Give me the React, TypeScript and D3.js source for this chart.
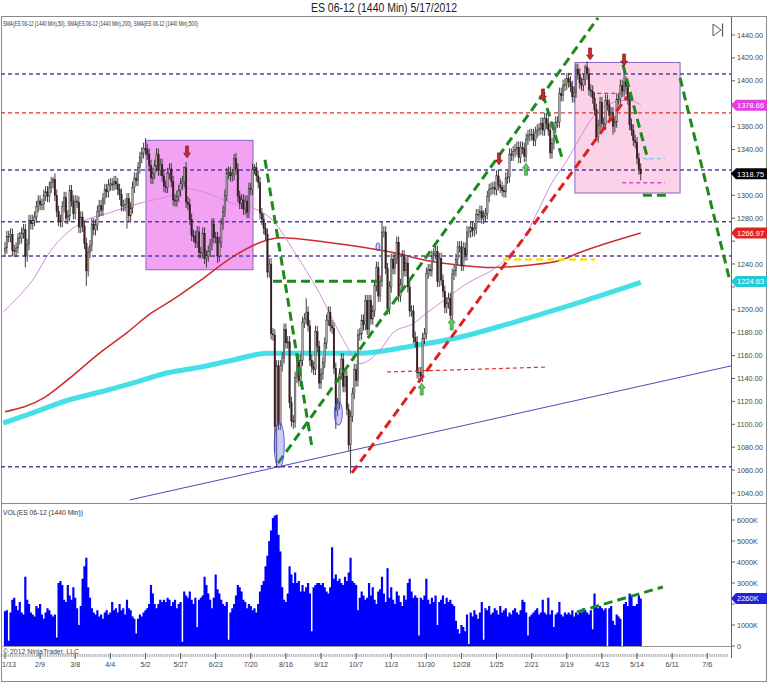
import React from 'react';
import * as d3 from 'd3';

// ---------- DATA ----------
const closes = [
  1254, 1264, 1264, 1266, 1252, 1251, 1254, 1262, 1263, 1267, 1270, 1247, 1257,
  1278, 1275, 1278, 1281, 1290, 1295, 1292, 1292, 1300, 1303, 1299, 1307, 1311, 1314, 1300, 1286, 1278, 1277, 1290, 1298,
  1280, 1282, 1304, 1295, 1284, 1295, 1294, 1272, 1281, 1273, 1258, 1234, 1250, 1256, 1275, 1270, 1274, 1286, 1291, 1287, 1297, 1305, 1303,
  1309, 1310, 1309, 1312, 1310, 1305, 1301, 1291, 1291, 1292, 1297, 1282, 1289, 1307, 1315, 1313, 1324, 1333, 1337, 1341,
  1340, 1336, 1326, 1315, 1319, 1326, 1336, 1322, 1327, 1317, 1308, 1307, 1319, 1323, 1312, 1296, 1295, 1299, 1304, 1310, 1312, 1324,
  1294, 1292, 1279, 1265, 1264, 1259, 1268, 1250, 1250, 1267, 1245, 1247, 1251, 1257, 1275, 1263, 1263, 1247, 1259, 1275, 1286, 1300,
  1319, 1320, 1317, 1318, 1332, 1323, 1299, 1293, 1296, 1288, 1295, 1285, 1306, 1305, 1323, 1324, 1317, 1311, 1284, 1279, 1271,
  1266, 1233, 1240, 1179, 1178, 1098, 1151, 1100, 1151, 1158, 1183, 1171, 1172, 1119, 1103, 1102, 1141, 1156, 1138, 1156, 1189, 1192, 1198,
  1186, 1156, 1150, 1148, 1181, 1168, 1136, 1144, 1154, 1171, 1191, 1198, 1186, 1184, 1149, 1112, 1118, 1144, 1157, 1133, 1142, 1113,
  1082, 1107, 1127, 1148, 1138, 1178, 1179, 1191, 1187, 1208, 1183, 1208, 1192, 1199, 1221, 1237, 1212, 1225, 1268, 1268, 1236,
  1201, 1220, 1244, 1236, 1245, 1259, 1212, 1222, 1247, 1234, 1241, 1220, 1199, 1199, 1176, 1172, 1145, 1145, 1142, 1175, 1179, 1232,
  1235, 1234, 1247, 1249, 1251, 1225, 1245, 1226, 1216, 1202, 1206, 1210, 1195, 1231, 1234, 1244, 1255, 1255, 1239, 1254, 1248,
  1268, 1268, 1272, 1269, 1271, 1283, 1283, 1286, 1280, 1282, 1284, 1299, 1305, 1306, 1307, 1305, 1317, 1309, 1307, 1304, 1303,
  1315, 1316, 1336, 1335, 1338, 1340, 1342, 1333, 1342, 1341, 1334, 1349, 1352, 1353, 1353, 1348, 1355, 1357, 1358, 1363, 1357,
  1367, 1363, 1357, 1337, 1345, 1359, 1364, 1364, 1389, 1387, 1396, 1397, 1402, 1399, 1395, 1386, 1390, 1410, 1406, 1398, 1396, 1401,
  1412, 1406, 1392, 1391, 1385, 1375, 1351, 1361, 1381, 1363, 1362, 1383, 1379, 1370, 1372, 1360, 1364, 1384, 1384, 1396, 1391,
  1399, 1395, 1384, 1362, 1357, 1348, 1346, 1332, 1323, 1318.75,
];

const volumes = [
  1650, 1700, 250, 1600, 2200, 2300, 1900, 1700, 2100, 1600,
  1500, 3300, 2200, 2000, 1600, 1500, 1400, 1900, 1800, 2000,
  1500, 1300, 1600, 1800, 1700, 1500, 1400, 1500, 400, 3000,
  3100, 2900, 2200, 2100, 2900, 2400, 2200, 2800, 2300, 1800,
  1000, 1900, 3200, 3800, 4200, 2800, 2300, 1800, 1600, 1500,
  1700, 1400, 1500, 1300, 1600, 1700, 1500, 1600, 2100, 1700,
  1800, 1600, 2000, 1700, 1800, 1500, 2200, 1800, 1700, 1400,
  1300, 600, 1300, 1500, 1400, 1600, 1700, 1800, 2000, 2900,
  2500, 2000, 1800, 2000, 2200, 2100, 2200, 2100, 2300, 2200,
  1900, 2100, 2200, 1800, 2000, 2100, 200, 2600, 2400, 2300,
  2600, 2200, 2000, 2300, 900, 2200, 2300, 2400, 3300, 2900,
  2500, 2200, 1800, 2300, 3400, 2700, 2500, 2200, 2000, 1900,
  2100, 300, 1600, 1800, 2000, 2400, 2900, 2800, 2600, 2200,
  2100, 1800, 2000, 1900, 1700, 1800, 1600, 2000, 2600, 2900,
  3100, 3800, 4300, 5000, 5500, 6100, 6200, 6250, 5300, 4500,
  2800, 2200, 2100, 2500, 3800, 3400, 3000, 3500, 3000, 3100,
  2600, 2900, 2600, 2800, 3000, 2500, 700, 2800, 2900, 3000,
  3000, 2900, 3000, 2800, 2600, 2500, 2800, 4700, 3200, 3400,
  3100, 3200, 3000, 2900, 3300, 3100, 3500, 4200, 3100, 3000,
  2900, 1700, 2300, 2600, 2400, 2200, 2300, 3000, 2400, 2800,
  2200, 2000, 2600, 2700, 3300, 2500, 2100, 3700, 2300, 2800,
  2200, 2000, 2600, 2400, 2100, 1900, 2400, 2200, 3000, 3200,
  2600, 2300, 2400, 2300, 500, 2300, 2200, 2400, 3200, 2200,
  2000, 2300, 2100, 2400, 1000, 2100, 2200, 2400, 2000, 2300,
  2100, 2200, 2000, 1900, 1200, 800, 600, 1000, 900, 700,
  1500, 100, 1600, 1400, 1700, 1500, 1300, 1600, 2100, 300,
  1800, 1700, 1900, 1500, 1600, 1800, 1700, 1500, 1900, 1600,
  1700, 1800, 1400, 1600, 1500, 1700, 1800, 1600, 1500, 1700,
  2200, 2100, 1600, 500, 1400, 1500, 1600, 1700, 1800, 1500,
  1600, 2200, 1600, 1500, 2300, 1500, 1700, 900, 1500, 1600,
  2100, 1500, 1400, 1600, 1500, 1600, 1500, 1700, 1400, 1600,
  1500, 1700, 1600, 1800, 1700, 1600, 1500, 1700, 800, 2500,
  1900, 1800, 1900, 1800, 1700, 1800, 0, 1800, 1900, 1200,
  1000, 1500, 1400, 1300, 0, 2000, 2100, 1900, 2500, 2400,
  1900, 1900, 2000, 2400, 2260,
];

const lowIdx = [11, 44, 66, 109, 115, 146, 147, 156, 179, 187, 224, 241, 320, 329, 344];
const lowVal = [1237, 1221, 1271, 1237, 1241, 1075, 1063, 1096, 1096, 1057, 1138, 1192, 1348, 1353, 1313];
const highIdx = [26, 76, 97, 124, 135, 163, 175, 204, 309, 314, 335];
const highVal = [1316, 1350, 1325, 1336, 1327, 1210, 1203, 1277, 1415, 1414, 1409];

const sma50 = [[-1, 1198], [7, 1211], [15, 1226], [24, 1250], [41, 1276], [57, 1285], [75, 1294], [88, 1299], [98, 1306], [109, 1302], [123, 1293], [134, 1289], [145, 1278], [156, 1252], [170, 1215], [183, 1174], [192, 1153], [203, 1165], [210, 1180], [221, 1188], [228, 1197], [239, 1210], [250, 1223], [257, 1229], [264, 1235], [270, 1243], [275, 1252], [279, 1258], [288, 1285], [296, 1311], [304, 1330], [311, 1350], [320, 1372], [329, 1381], [337, 1383], [344, 1379]];
const sma200 = [[0, 1111], [21, 1123], [34, 1139], [51, 1162], [66, 1180], [79, 1197], [91, 1209], [106, 1226], [123, 1246], [142, 1261], [149, 1263], [174, 1259], [192, 1255], [210, 1250], [228, 1243], [246, 1239], [264, 1237], [283, 1239], [300, 1243], [311, 1250], [344, 1267]];
const sma500 = [[-1, 1101], [15, 1110], [34, 1121], [51, 1128], [69, 1136], [88, 1145], [106, 1150], [123, 1156], [142, 1162], [160, 1162], [192, 1162], [219, 1168], [246, 1176], [273, 1188], [300, 1201], [344, 1224]];

const xLabels = ['1/13', '2/9', '3/8', '4/4', '5/2', '5/27', '6/23', '7/20', '8/16', '9/12', '10/7', '11/3', '11/30', '12/28', '1/25', '2/21', '3/19', '4/13', '5/14', '6/11', '7/6'];
const priceTicks = [1040, 1060, 1080, 1100, 1120, 1140, 1160, 1180, 1200, 1220, 1240, 1260, 1280, 1300, 1320, 1340, 1360, 1380, 1400, 1420, 1440];
const volTicks = [0, 1000, 2000, 3000, 4000, 5000, 6000];

const purpleLevels = [1406, 1322, 1277, 1247, 1063];
const redLevels = [1372];

// annotation lines [i1, p1, i2, p2]
const greenLines = [
  [147.7, 1066, 320.9, 1455],
  [140.7, 1331, 166.1, 1080],
  [145, 1225, 201.8, 1225],
  [291.1, 1388, 301.4, 1333],
  [334.4, 1414, 347.9, 1331],
  [345.2, 1300, 358.2, 1300],
  [365.3, 1402.5, 392.3, 1225],
];
const redThickLines = [[187.8, 1057.5, 336.6, 1386]];
const redThinLines = [[206.7, 1145.7, 293.3, 1150], [320.5, 1389, 336.6, 1389]];
const yellowLines = [[269.5, 1244, 319.3, 1244]];
const lightBlueLines = [[345.2, 1332, 357, 1332]];
const magentaLines = [[334, 1311, 357, 1311]];
const blueLines = [[67.6, 1034, 392.9, 1151]];
const volGreenLines = [[309.5, 1620, 356, 2810]];

const boxes = [
  { i1: 76.3, i2: 134.2, p1: 1348, p2: 1235, fill: '#f2a2f2' },
  { i1: 308.4, i2: 365.3, p1: 1416, p2: 1302, fill: '#fbd2e8' },
];
const ellipses = [
  { i: 148.4, p: 1082, rx: 5, ry: 23 },
  { i: 180.4, p: 1109.6, rx: 4, ry: 12 },
  { i: 201.8, p: 1255, rx: 2, ry: 4 },
];
const redArrowIdx = [98.5, 267.3, 291.1, 316.6, 335];
const redArrowTip = [1332.6, 1326.5, 1382.4, 1418.2, 1412.9];
const greenArrowIdx = [225.5, 241.7, 281.9];
const greenArrowTip = [1136, 1192.8, 1328];

const tags = [
  { p: 1378.66, text: '1378.66', bg: '#e040e0', fg: '#fff' },
  { p: 1318.75, text: '1318.75', bg: '#000000', fg: '#fff' },
  { p: 1266.97, text: '1266.97', bg: '#e02424', fg: '#fff' },
  { p: 1224.63, text: '1224.63', bg: '#26c8d8', fg: '#fff' },
];

const FONT = "'Liberation Sans Narrow', 'Liberation Sans', Arial, sans-serif";

export default function App() {
  const x = d3.scaleLinear().domain([0, 380]).range([5, 707.24]);
  const y = d3.scaleLinear().domain([1040, 1440]).range([493, 35]);
  const yv = d3.scaleLinear().domain([0, 6000]).range([646, 520]);

  const lowMap = new Map(lowIdx.map((k, j) => [k, lowVal[j]]));
  const highMap = new Map(highIdx.map((k, j) => [k, highVal[j]]));

  const line = d3.line<number[]>().x(d => x(d[0])).y(d => y(d[1])).curve(d3.curveMonotoneX);

  const seg = (l: number[], key: string, stroke: string, w: number, dash: string | undefined) => (
    <line key={key} x1={x(l[0])} y1={y(l[1])} x2={x(l[2])} y2={y(l[3])} stroke={stroke} strokeWidth={w} strokeDasharray={dash} />
  );

  const candles = closes.map((c, i) => {
    const o = i === 0 ? c - 3 : closes[i - 1];
    const hi = highMap.has(i) ? (highMap.get(i) as number) : Math.max(o, c) + 5;
    const lo = lowMap.has(i) ? (lowMap.get(i) as number) : Math.min(o, c) - 5;
    const up = c >= o;
    const cx = x(i);
    const top = y(Math.max(o, c));
    const h = Math.max(0.8, Math.abs(y(o) - y(c)));
    return (
      <g key={i}>
        <line x1={cx} x2={cx} y1={y(hi)} y2={y(lo)} stroke="#2a2a2a" strokeWidth={0.9} />
        <rect x={cx - 0.8} y={top} width={1.6} height={h} fill={up ? '#a4a4a4' : '#461818'} stroke="#1e1e1e" strokeWidth={0.35} />
      </g>
    );
  });

  // one path for all volume bars (avoids seams between adjacent bars)
  const volPath = volumes.map((v, i) => {
    const x0 = x(i) - 1.1, x1 = x(i) + 1.1, top = yv(v);
    return `M${x0},646V${top}H${x1}V646Z`;
  }).join('');

  const minorTicks = d3.range(-2, 392);
  const tagYs = tags.map(t => y(t.p));

  const arrowDown = (i: number, p: number, k: number) => {
    const cx = x(i), ty = y(p);
    const d = `M${cx},${ty} L${cx - 3.5},${ty - 5} L${cx - 1.5},${ty - 5} L${cx - 1.5},${ty - 12} L${cx + 1.5},${ty - 12} L${cx + 1.5},${ty - 5} L${cx + 3.5},${ty - 5} Z`;
    return <path key={'ra' + k} d={d} fill="#c42a2a" stroke="#7a1010" strokeWidth={0.6} />;
  };
  const arrowUp = (i: number, p: number, k: number) => {
    const cx = x(i), ty = y(p);
    const d = `M${cx},${ty} L${cx - 3.5},${ty + 5} L${cx - 1.5},${ty + 5} L${cx - 1.5},${ty + 12} L${cx + 1.5},${ty + 12} L${cx + 1.5},${ty + 5} L${cx + 3.5},${ty + 5} Z`;
    return <path key={'ga' + k} d={d} fill="#5cc85c" stroke="#2a7a2a" strokeWidth={0.6} />;
  };

  const tagShape = (ty: number, bg: string, text: string, fg: string, key: string) => (
    <g key={key}>
      <path d={`M731,${ty} L736,${ty - 5.5} L767,${ty - 5.5} L767,${ty + 5.5} L736,${ty + 5.5} Z`} fill={bg} />
      <text x={737} y={ty + 2.7} fontSize={7.5} fill={fg} fontFamily={FONT}>{text}</text>
    </g>
  );

  const GREEN = '#1e8a1e';

  return (
    <svg width={768} height={683} style={{ position: 'absolute', left: 0, top: 0, background: '#fff' }} fontFamily={FONT}>
      <defs>
        <clipPath id="pclip"><rect x={1} y={17} width={730} height={486} /></clipPath>
        <clipPath id="vclip"><rect x={1} y={505} width={730} height={141} /></clipPath>
      </defs>
      <rect x={0} y={0} width={768} height={683} fill="#fff" />
      <text x={384} y={12} fontSize={12.5} textAnchor="middle" fill="#222" textLength={146} lengthAdjust="spacingAndGlyphs">ES 06-12 (1440 Min)  5/17/2012</text>

      {/* frame */}
      <rect x={1.5} y={16.5} width={765} height={665} fill="none" stroke="#8a8a8a" />
      <line x1={1} x2={767} y1={503.5} y2={503.5} stroke="#8a8a8a" />

      {/* price panel */}
      <g clipPath="url(#pclip)">
        {boxes.map((b, k) => (
          <rect key={'b' + k} x={x(b.i1)} y={y(b.p1)} width={x(b.i2) - x(b.i1)} height={y(b.p2) - y(b.p1)} fill={b.fill} stroke="#8a62c4" strokeWidth={1} />
        ))}
        <path d={line(sma500 as any) || ''} fill="none" stroke="#44e0e6" strokeWidth={5} />
        <path d={line(sma200 as any) || ''} fill="none" stroke="#d02a2a" strokeWidth={1.5} />
        <path d={line(sma50 as any) || ''} fill="none" stroke="#d58ae0" strokeWidth={1} />
        {purpleLevels.map((p, k) => (
          <line key={'pl' + k} x1={1} x2={731} y1={y(p)} y2={y(p)} stroke="#5b3d9c" strokeWidth={1.5} strokeDasharray="4,3" />
        ))}
        {redLevels.map((p, k) => (
          <line key={'rl' + k} x1={1} x2={731} y1={y(p)} y2={y(p)} stroke="#e03030" strokeWidth={1.2} strokeDasharray="4,3" />
        ))}
        {blueLines.map((l, k) => seg(l, 'bl' + k, '#4a4ac0', 1, undefined))}
        {yellowLines.map((l, k) => seg(l, 'yl' + k, '#f2e21c', 2.5, '7,4'))}
        {candles}
        {redThinLines.map((l, k) => seg(l, 'rt' + k, '#e03030', 1.2, '4,3'))}
        {lightBlueLines.map((l, k) => seg(l, 'lb' + k, '#7cc4f0', 1.4, '4,3'))}
        {magentaLines.map((l, k) => seg(l, 'mg' + k, '#e040e0', 1.4, '4,3'))}
        {redThickLines.map((l, k) => seg(l, 'rk' + k, '#e02020', 3, '9,5'))}
        {greenLines.map((l, k) => seg(l, 'gl' + k, GREEN, 3, '9,5'))}
        {ellipses.map((e, k) => (
          <ellipse key={'e' + k} cx={x(e.i)} cy={y(e.p)} rx={e.rx} ry={e.ry} fill="rgba(110,110,240,0.35)" stroke="#4040c0" strokeWidth={0.8} />
        ))}
        {redArrowIdx.map((i, k) => arrowDown(i, redArrowTip[k], k))}
        {greenArrowIdx.map((i, k) => arrowUp(i, greenArrowTip[k], k))}
      </g>
      <text x={3} y={26} fontSize={6.6} fill="#333" textLength={195} lengthAdjust="spacingAndGlyphs">SMA(ES 06-12 (1440 Min),50), SMA(ES 06-12 (1440 Min),200), SMA(ES 06-12 (1440 Min),500)</text>
      {/* play icon */}
      <path d="M713,24 L713,36 L721,30 Z" fill="none" stroke="#555" strokeWidth={1} />
      <line x1={722.5} x2={722.5} y1={23.5} y2={36.5} stroke="#555" strokeWidth={1.2} />

      {/* price axis */}
      <line x1={731.5} x2={731.5} y1={17} y2={503} stroke="#666" />
      {priceTicks.map(p => (
        <g key={'pt' + p}>
          <line x1={731} x2={735} y1={y(p)} y2={y(p)} stroke="#666" />
          {tagYs.every(ty => Math.abs(ty - y(p)) > 9) && (
            <text x={737} y={y(p) + 2.5} fontSize={7.2} fill="#444">{p.toFixed(2)}</text>
          )}
        </g>
      ))}
      {tags.map((t, k) => tagShape(y(t.p), t.bg, t.text, t.fg, 'tg' + k))}

      {/* volume panel */}
      <g clipPath="url(#vclip)">
        <path d={volPath} fill="#0000ff" />
        {volGreenLines.map((l, k) => (
          <line key={'vg' + k} x1={x(l[0])} y1={yv(l[1])} x2={x(l[2])} y2={yv(l[3])} stroke={GREEN} strokeWidth={3} strokeDasharray="9,5" />
        ))}
      </g>
      <text x={3} y={515} fontSize={6.8} fill="#333" textLength={80} lengthAdjust="spacingAndGlyphs">VOL(ES 06-12 (1440 Min))</text>
      <line x1={1} x2={731} y1={646.5} y2={646.5} stroke="#999" />
      <text x={3} y={653.5} fontSize={6.6} fill="#444" textLength={76} lengthAdjust="spacingAndGlyphs">© 2012 NinjaTrader, LLC</text>
      <line x1={731.5} x2={731.5} y1={505} y2={658} stroke="#666" />
      {volTicks.map(v => (
        <g key={'vt' + v}>
          <line x1={731} x2={735} y1={yv(v)} y2={yv(v)} stroke="#666" />
          {Math.abs(yv(v) - yv(2260)) > 9 && (
            <text x={737} y={yv(v) + 2.5} fontSize={7.2} fill="#444">{v === 0 ? '0' : v + 'K'}</text>
          )}
        </g>
      ))}
      {tagShape(yv(2260), '#2020e0', '2260K', '#fff', 'vtag')}

      {/* x axis */}
      {minorTicks.map(i => (
        <line key={'mt' + i} x1={x(i)} x2={x(i)} y1={654} y2={657} stroke="#777" strokeWidth={0.6} />
      ))}
      {xLabels.map((lab, k) => (
        <g key={'xl' + k}>
          <line x1={x(k * 19)} x2={x(k * 19)} y1={653} y2={659} stroke="#555" />
          <text x={Math.max(x(k * 19), 9)} y={667} fontSize={7.2} textAnchor="middle" fill="#444">{lab}</text>
        </g>
      ))}
    </svg>
  );
}
